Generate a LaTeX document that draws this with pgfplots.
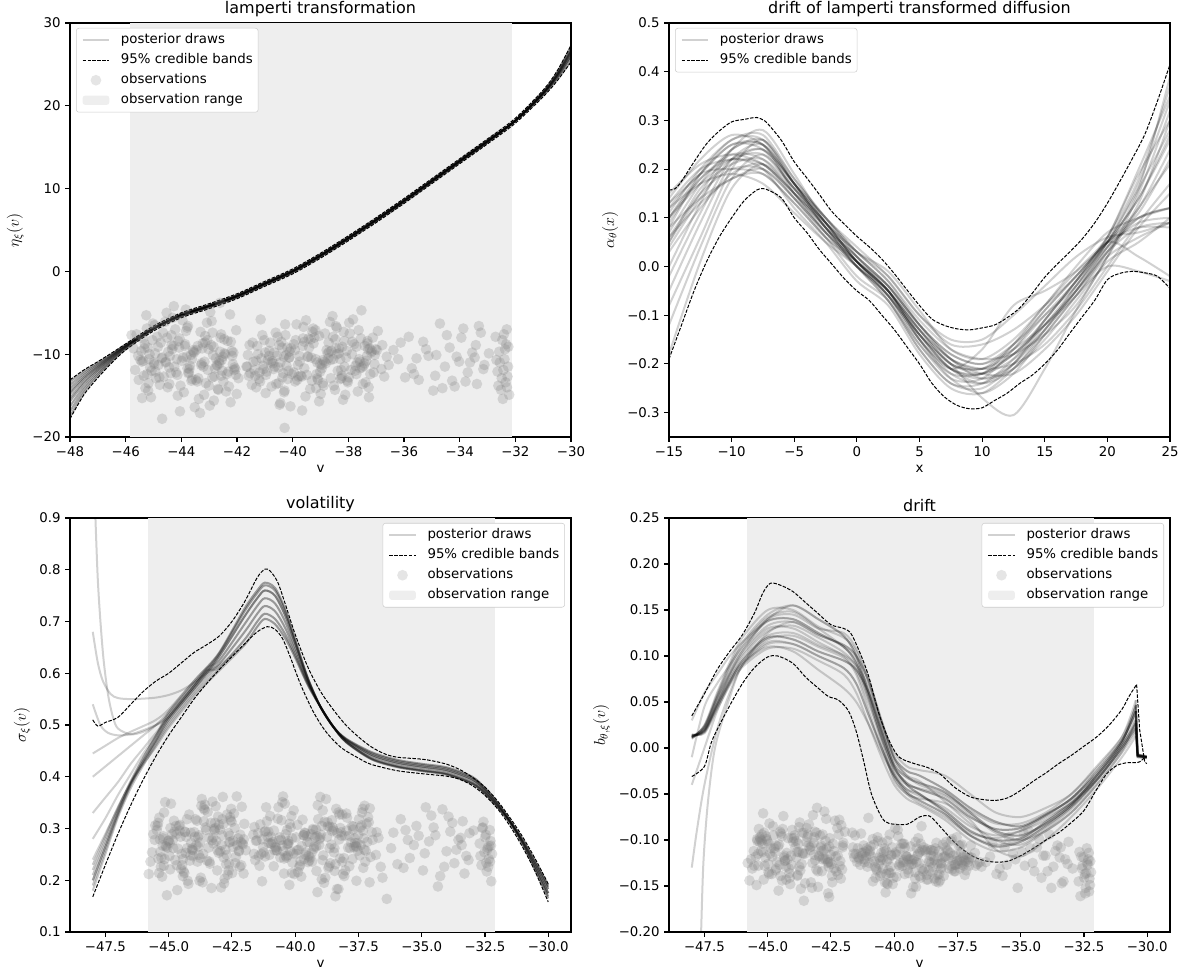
\documentclass[border=0pt]{standalone}
\usepackage{fontspec}
\setmainfont{DejaVu Sans}
\usepackage{pgfplots}
\pgfplotsset{compat=1.18}
\usepackage{pgfplotstable}
\definecolor{obsgray}{gray}{0.933}

\pgfplotstableread{
x a b c
-44.82 -11.3 0.262 -0.118
-43.15 -8.6 0.301 -0.097
-42.37 -12.4 0.233 -0.131
-45.21 -9.2 0.285 -0.104
-44.03 -13.8 0.247 -0.089
-42.88 -7.4 0.318 -0.112
-43.66 -10.1 0.196 -0.126
-45.02 -6.3 0.276 -0.101
-42.11 -11.9 0.342 -0.142
-44.47 -9.7 0.229 -0.093
-43.91 -14.6 0.268 -0.108
-42.64 -10.8 0.291 -0.121
-45.38 -8.1 0.214 -0.115
-44.19 -12.2 0.327 -0.098
-43.02 -9.4 0.253 -0.134
-42.25 -5.2 0.281 -0.087
-44.71 -10.5 0.305 -0.113
-43.48 -13.1 0.238 -0.102
-45.12 -11.6 0.266 -0.128
-42.93 -8.9 0.186 -0.095
-44.36 -7.7 0.294 -0.119
-43.27 -11.1 0.352 -0.107
-41.95 -12.9 0.258 -0.091
-44.94 -9.9 0.221 -0.137
-43.79 -6.8 0.287 -0.104
-42.51 -10.3 0.313 -0.116
-45.29 -14.1 0.244 -0.099
-44.11 -8.4 0.272 -0.148
-42.79 -11.7 0.203 -0.111
-43.58 -9.5 0.336 -0.092
-44.63 -12.7 0.261 -0.124
-42.03 -7.1 0.279 -0.106
-45.47 -10.7 0.297 -0.118
-43.37 -15.4 0.232 -0.083
-44.28 -9.0 0.318 -0.129
-42.71 -11.4 0.249 -0.101
-43.84 -4.6 0.283 -0.113
-45.07 -12.0 0.171 -0.096
-42.46 -8.2 0.264 -0.139
-44.55 -10.9 0.307 -0.105
-43.12 -13.5 0.276 -0.122
-42.19 -9.6 0.226 -0.094
-44.87 -7.9 0.289 -0.109
-43.71 -11.8 0.344 -0.133
-45.33 -9.3 0.255 -0.102
-42.98 -16.2 0.298 -0.117
-44.41 -10.2 0.217 -0.088
-43.23 -8.7 0.271 -0.125
-42.57 -12.6 0.322 -0.107
-45.16 -10.6 0.241 -0.143
-43.96 -5.9 0.284 -0.098
-44.25 -11.5 0.199 -0.114
-42.84 -9.1 0.309 -0.121
-43.43 -13.3 0.263 -0.097
-45.61 -7.6 0.289 -0.131
-44.68 -10.4 0.229 -0.106
-42.31 -12.1 0.362 -0.118
-43.07 -8.3 0.258 -0.092
-44.99 -11.0 0.277 -0.126
-42.67 -14.3 0.211 -0.109
-43.54 -9.8 0.302 -0.115
-45.24 -6.9 0.267 -0.101
-44.14 -12.5 0.248 -0.136
-42.42 -10.0 0.329 -0.104
-43.86 -8.8 0.236 -0.119
-44.77 -13.7 0.294 -0.095
-42.15 -11.2 0.274 -0.128
-43.31 -7.3 0.185 -0.111
-45.42 -10.9 0.311 -0.099
-44.33 -9.4 0.253 -0.123
-42.89 -12.8 0.287 -0.106
-43.62 -10.6 0.339 -0.114
-44.51 -8.0 0.222 -0.091
-42.06 -11.8 0.269 -0.132
-45.79 -7.7 0.212 -0.125
-43.18 -14.9 0.296 -0.103
-44.08 -9.2 0.259 -0.117
-42.55 -10.7 0.316 -0.098
-43.75 -12.3 0.243 -0.129
-45.55 -10.2 0.278 -0.112
-44.59 -6.1 0.305 -0.107
-42.73 -11.3 0.231 -0.121
-43.41 -9.0 0.282 -0.094
-44.91 -12.9 0.348 -0.115
-42.22 -8.5 0.256 -0.138
-43.99 -10.8 0.293 -0.102
-45.09 -15.2 0.265 -0.119
-44.44 -11.6 0.208 -0.096
-42.61 -9.7 0.273 -0.124
-43.33 -17.1 0.311 -0.108
-40.12 -10.4 0.281 -0.116
-38.47 -8.2 0.254 -0.129
-39.71 -12.6 0.317 -0.104
-37.23 -9.3 0.236 -0.122
-41.05 -11.8 0.272 -0.111
-39.18 -7.1 0.298 -0.135
-38.02 -13.4 0.219 -0.118
-40.66 -9.8 0.341 -0.097
-37.58 -10.9 0.265 -0.127
-41.44 -8.6 0.247 -0.109
-39.37 -14.2 0.289 -0.121
-38.81 -11.1 0.205 -0.132
-40.27 -6.4 0.276 -0.101
-37.09 -12.2 0.312 -0.124
-39.92 -9.5 0.258 -0.113
-38.29 -10.6 0.183 -0.138
-41.21 -13.0 0.294 -0.106
-40.48 -8.9 0.362 -0.119
-37.74 -11.4 0.241 -0.128
-39.05 -7.8 0.279 -0.115
-38.63 -12.9 0.303 -0.123
-40.85 -10.2 0.227 -0.099
-37.41 -9.0 0.268 -0.131
-39.54 -15.1 0.285 -0.117
-41.63 -11.5 0.251 -0.108
-38.14 -8.4 0.327 -0.125
-40.03 -12.4 0.212 -0.141
-37.87 -10.0 0.286 -0.112
-39.26 -6.9 0.261 -0.126
-38.95 -11.7 0.305 -0.104
-40.59 -13.6 0.244 -0.119
-37.15 -9.6 0.274 -0.133
-41.31 -10.8 0.198 -0.114
-39.63 -8.1 0.292 -0.122
-38.38 -12.0 0.338 -0.109
-40.19 -9.2 0.256 -0.136
-37.66 -14.5 0.281 -0.117
-39.81 -11.3 0.229 -0.127
-38.57 -5.4 0.269 -0.111
-41.12 -10.5 0.314 -0.118
-40.37 -12.8 0.247 -0.146
-37.32 -8.7 0.296 -0.105
-39.12 -11.0 0.177 -0.124
-38.74 -9.9 0.284 -0.113
-40.76 -13.9 0.263 -0.129
-37.95 -7.5 0.321 -0.102
-39.44 -10.3 0.238 -0.121
-41.52 -12.3 0.277 -0.115
-38.22 -9.1 0.301 -0.137
-40.08 -16.3 0.252 -0.108
-37.51 -11.6 0.288 -0.123
-39.89 -8.3 0.216 -0.116
-38.91 -10.7 0.335 -0.131
-40.93 -12.1 0.271 -0.107
-37.02 -9.4 0.245 -0.119
-39.31 -13.2 0.299 -0.126
-38.45 -6.6 0.262 -0.112
-41.38 -11.9 0.308 -0.121
-40.23 -10.1 0.191 -0.133
-37.79 -8.8 0.273 -0.114
-39.67 -12.7 0.287 -0.128
-38.08 -10.4 0.243 -0.105
-40.54 -7.9 0.316 -0.122
-37.27 -14.0 0.259 -0.117
-39.01 -11.2 0.282 -0.139
-38.69 -9.7 0.224 -0.110
-41.17 -13.3 0.295 -0.124
-40.41 -8.5 0.348 -0.113
-37.61 -10.6 0.266 -0.127
-39.49 -12.5 0.235 -0.118
-38.33 -9.3 0.291 -0.103
-40.71 -11.1 0.257 -0.131
-36.94 -7.2 0.278 -0.119
-39.76 -10.2 0.207 -0.125
-38.52 -13.8 0.302 -0.111
-41.27 -9.0 0.264 -0.117
-40.15 -12.0 0.324 -0.129
-37.45 -11.4 0.248 -0.106
-39.22 -8.0 0.283 -0.121
-38.86 -10.9 0.195 -0.134
-40.97 -14.7 0.271 -0.115
-37.18 -9.8 0.309 -0.123
-39.58 -11.7 0.254 -0.108
-38.17 -7.3 0.286 -0.126
-41.58 -12.6 0.239 -0.119
-40.32 -10.3 0.297 -0.112
-37.83 -5.8 0.262 -0.131
-39.09 -13.1 0.318 -0.117
-38.61 -9.6 0.233 -0.124
-40.64 -11.5 0.277 -0.101
-36.78 -8.9 0.293 -0.128
-39.96 -12.2 0.251 -0.115
-38.41 -10.0 0.169 -0.122
-41.09 -7.7 0.284 -0.109
-40.51 -13.5 0.267 -0.136
-37.36 -10.8 0.331 -0.114
-39.41 -9.2 0.244 -0.127
-38.26 -11.9 0.279 -0.119
-40.81 -8.6 0.258 -0.105
-37.71 -12.4 0.304 -0.132
-36.62 -10.3 0.226 -0.124
-38.99 -14.8 0.288 -0.113
-40.44 -11.0 0.213 -0.121
-37.97 -6.2 0.296 -0.118
-39.17 -10.6 0.265 -0.142
-36.71 -12.7 0.282 -0.126
-38.78 -9.5 0.357 -0.111
-40.29 -18.9 0.248 -0.123
-37.55 -8.1 0.272 -0.116
-36.55 -11.3 0.205 -0.129
-36.21 -10.6 0.262 -0.118
-35.83 -7.9 0.318 -0.131
-35.47 -13.1 0.243 -0.097
-35.12 -10.2 0.286 -0.152
-34.95 -14.4 0.219 -0.113
-34.71 -6.3 0.275 -0.089
-34.53 -11.5 0.302 -0.125
-34.36 -9.2 0.188 -0.108
-34.18 -13.9 0.337 -0.141
-34.02 -10.9 0.256 -0.117
-33.87 -6.9 0.294 -0.094
-33.71 -12.2 0.233 -0.129
-33.55 -9.8 0.278 -0.106
-33.38 -13.6 0.314 -0.147
-33.24 -7.4 0.247 -0.121
-33.11 -11.3 0.291 -0.102
-35.96 -12.8 0.231 -0.137
-35.31 -8.5 0.268 -0.115
-34.84 -10.1 0.341 -0.128
-34.27 -13.2 0.208 -0.099
-33.94 -8.0 0.323 -0.134
-33.63 -11.0 0.259 -0.112
-36.38 -9.5 0.164 -0.124
-35.64 -12.4 0.297 -0.108
-33.46 -10.4 0.282 -0.119
-32.71 -7.9 0.271 -0.145
-32.64 -12.1 0.229 -0.161
-32.58 -9.7 0.302 -0.131
-32.52 -14.3 0.254 -0.119
-32.47 -8.3 0.288 -0.137
-32.43 -11.9 0.217 -0.152
-32.39 -10.6 0.263 -0.109
-32.35 -13.4 0.241 -0.127
-32.31 -7.0 0.297 -0.114
-32.28 -12.7 0.276 -0.142
-32.25 -9.1 0.198 -0.123
-32.22 -14.9 0.251 -0.135
-32.56 -11.0 0.313 -0.128
-32.45 -15.4 0.234 -0.158
-32.33 -8.8 0.266 -0.121
-44.93 -12.1 0.301 -0.082
-43.08 -6.2 0.219 -0.132
-42.45 -9.9 0.276 -0.146
-45.18 -13.5 0.331 -0.071
-44.06 -8.1 0.262 -0.127
-42.83 -15.6 0.244 -0.094
-43.69 -11.4 0.357 -0.153
-45.26 -5.3 0.207 -0.112
-42.17 -10.2 0.288 -0.078
-44.49 -14.0 0.251 -0.139
-43.88 -9.0 0.315 -0.101
-42.61 -3.8 0.232 -0.158
-45.35 -12.6 0.279 -0.088
-44.22 -7.0 0.193 -0.121
-43.05 -11.9 0.323 -0.065
-42.29 -13.9 0.268 -0.134
-44.74 -8.6 0.239 -0.109
-43.52 -16.4 0.297 -0.147
-45.14 -10.0 0.351 -0.092
-42.96 -4.9 0.256 -0.118
-44.38 -12.3 0.214 -0.074
-43.25 -9.3 0.282 -0.152
-42.01 -14.8 0.309 -0.103
-44.97 -11.2 0.247 -0.135
-43.76 -6.6 0.273 -0.086
-42.53 -12.0 0.338 -0.124
-45.31 -8.8 0.226 -0.097
-44.13 -15.0 0.292 -0.141
-42.76 -10.5 0.259 -0.069
-43.61 -13.0 0.314 -0.115
-44.66 -7.4 0.181 -0.131
-42.09 -11.6 0.271 -0.084
-45.44 -9.6 0.305 -0.149
-43.39 -12.9 0.236 -0.106
-44.31 -5.6 0.284 -0.122
-42.69 -14.2 0.327 -0.077
-43.81 -10.3 0.249 -0.138
-45.04 -8.3 0.263 -0.099
-42.49 -13.3 0.214 -0.126
-44.57 -11.0 0.296 -0.155
-43.14 -7.8 0.343 -0.091
-42.23 -15.8 0.257 -0.117
-44.84 -9.1 0.277 -0.137
-43.73 -12.2 0.205 -0.081
-45.37 -10.8 0.321 -0.128
-42.91 -6.0 0.268 -0.108
-44.43 -13.6 0.241 -0.144
-43.21 -11.5 0.299 -0.073
-42.59 -8.0 0.286 -0.129
-45.19 -14.4 0.228 -0.113
-43.94 -10.4 0.318 -0.095
-44.27 -4.2 0.262 -0.143
-42.81 -12.7 0.194 -0.119
-43.46 -9.5 0.332 -0.087
-45.66 -11.9 0.254 -0.121
-44.69 -17.8 0.289 -0.133
-42.34 -8.4 0.245 -0.079
-43.01 -13.8 0.307 -0.151
-44.96 -6.5 0.272 -0.104
-42.63 -11.1 0.219 -0.125
-43.57 -9.7 0.346 -0.166
-45.23 -12.4 0.281 -0.094
-44.16 -10.6 0.238 -0.131
-42.39 -14.5 0.301 -0.112
-43.83 -7.2 0.265 -0.139
-44.79 -12.8 0.315 -0.085
-42.13 -9.8 0.229 -0.123
-43.29 -11.3 0.277 -0.146
-45.41 -15.3 0.242 -0.101
-44.35 -8.9 0.293 -0.117
-42.86 -10.1 0.361 -0.134
-43.64 -13.2 0.251 -0.092
-44.53 -5.0 0.284 -0.127
-42.04 -12.5 0.213 -0.108
-45.72 -9.3 0.236 -0.144
-43.17 -10.9 0.311 -0.116
-44.05 -16.9 0.258 -0.098
-42.57 -7.6 0.274 -0.162
-43.78 -11.7 0.199 -0.113
-45.53 -13.1 0.306 -0.128
-40.18 -13.0 0.302 -0.094
-38.41 -6.8 0.231 -0.142
-39.75 -10.9 0.266 -0.109
-37.26 -15.2 0.344 -0.128
-41.02 -8.3 0.249 -0.076
-39.14 -12.4 0.285 -0.151
-38.06 -9.6 0.208 -0.119
-40.69 -11.8 0.319 -0.133
-37.53 -4.7 0.257 -0.097
-41.47 -13.7 0.291 -0.124
-39.33 -10.4 0.236 -0.158
-38.84 -7.5 0.313 -0.108
-40.31 -14.6 0.269 -0.137
-37.06 -11.2 0.196 -0.121
-39.96 -8.8 0.283 -0.087
-38.25 -12.9 0.327 -0.146
-41.25 -10.0 0.254 -0.114
-40.44 -15.9 0.242 -0.131
-37.71 -9.1 0.298 -0.099
-39.01 -12.1 0.361 -0.125
-38.66 -6.1 0.227 -0.143
-40.89 -10.7 0.274 -0.118
-37.38 -13.4 0.306 -0.106
-39.58 -8.5 0.249 -0.137
-41.66 -11.5 0.288 -0.092
-38.11 -14.9 0.212 -0.129
-40.06 -9.3 0.335 -0.148
-37.91 -11.9 0.263 -0.111
-39.29 -7.3 0.297 -0.122
-38.92 -13.5 0.239 -0.085
-40.56 -10.2 0.278 -0.139
-37.12 -8.0 0.322 -0.116
-41.34 -12.6 0.251 -0.127
-39.66 -16.8 0.287 -0.104
-38.35 -9.9 0.183 -0.145
-40.22 -11.4 0.309 -0.121
-37.63 -7.1 0.272 -0.134
-39.84 -13.1 0.226 -0.096
-38.54 -10.6 0.295 -0.125
-41.15 -5.8 0.341 -0.113
-40.34 -12.3 0.244 -0.157
-37.29 -9.4 0.281 -0.119
-39.16 -14.1 0.218 -0.102
-38.71 -8.6 0.304 -0.138
-40.79 -11.0 0.265 -0.123
-37.98 -12.8 0.329 -0.108
-39.47 -10.3 0.247 -0.132
-41.55 -8.9 0.276 -0.095
-38.19 -15.5 0.293 -0.144
-40.11 -9.7 0.234 -0.117
-37.48 -13.6 0.318 -0.126
-39.86 -6.4 0.259 -0.089
-38.95 -11.3 0.202 -0.141
-40.96 -12.5 0.284 -0.112
-37.05 -10.1 0.339 -0.128
-39.35 -8.2 0.253 -0.107
-38.48 -14.3 0.297 -0.135
-41.41 -10.9 0.228 -0.119
-40.26 -7.7 0.271 -0.148
-37.76 -12.0 0.305 -0.101
-39.64 -9.0 0.241 -0.124
-38.04 -13.2 0.286 -0.139
-40.51 -11.6 0.351 -0.114
-37.31 -8.4 0.224 -0.127
-39.05 -15.7 0.268 -0.098
-38.72 -10.5 0.312 -0.143
-41.19 -12.2 0.246 -0.121
-40.38 -9.2 0.289 -0.109
-37.58 -11.7 0.199 -0.134
-39.52 -5.9 0.274 -0.118
-38.29 -13.0 0.331 -0.126
-40.74 -10.8 0.258 -0.141
-36.97 -9.5 0.293 -0.106
-39.79 -12.7 0.237 -0.129
-38.55 -7.9 0.316 -0.117
-41.31 -14.0 0.279 -0.093
-40.13 -10.4 0.214 -0.136
-37.42 -11.1 0.302 -0.122
-39.25 -8.7 0.265 -0.151
-38.89 -13.8 0.248 -0.111
-40.99 -9.8 0.324 -0.125
-37.21 -12.4 0.257 -0.138
-39.61 -6.7 0.291 -0.104
-38.14 -11.5 0.236 -0.131
-41.61 -10.1 0.303 -0.115
-40.29 -14.4 0.271 -0.147
-37.86 -8.5 0.227 -0.120
-39.11 -12.9 0.345 -0.109
-38.64 -10.7 0.262 -0.133
-40.61 -7.4 0.283 -0.126
-36.81 -11.8 0.249 -0.114
-39.91 -13.3 0.307 -0.140
-38.44 -9.3 0.218 -0.118
-41.06 -11.4 0.294 -0.129
-40.47 -16.1 0.256 -0.103
-37.33 -10.2 0.338 -0.124
-39.43 -8.1 0.273 -0.136
-38.23 -12.6 0.242 -0.112
-40.84 -9.6 0.296 -0.145
-37.68 -11.0 0.264 -0.122
-36.12 -8.6 0.292 -0.104
-35.72 -11.7 0.224 -0.139
-35.21 -9.4 0.305 -0.121
-34.88 -12.6 0.252 -0.093
-34.46 -7.7 0.287 -0.134
-34.11 -10.3 0.226 -0.117
-33.79 -13.3 0.311 -0.152
-33.42 -8.9 0.268 -0.108
-33.15 -11.8 0.239 -0.126
-32.95 -9.9 0.296 -0.131
-32.68 -10.7 0.247 -0.113
-32.49 -12.9 0.283 -0.141
-32.37 -9.4 0.226 -0.125
-32.26 -11.5 0.267 -0.149
-32.61 -13.8 0.301 -0.118
-32.41 -7.6 0.259 -0.136
-32.30 -14.0 0.236 -0.156
-35.55 -10.5 0.278 -0.127
-34.62 -14.1 0.325 -0.109
-33.31 -6.6 0.213 -0.145
}\obstable

\pgfplotsset{
  base/.style={
    scale only axis, width=375.75pt, height=310.5pt, anchor=north west,
    axis line style={line width=0.8pt, black},
    tick style={line width=0.8pt, black},
    major tick length=3.5pt, tick align=outside,
    xtick pos=left, ytick pos=left,
    tick label style={font=\fontsize{10}{12}\selectfont},
    xlabel style={font=\fontsize{10}{12}\selectfont},
    ylabel style={font=\fontsize{12}{14}\selectfont},
    title style={font=\fontsize{12}{14}\selectfont, yshift=-5pt},
    legend style={font=\fontsize{10}{12}\selectfont, draw=black!20, rounded corners=2pt,
      fill=white, inner xsep=4pt, inner ysep=4pt,
      nodes={inner sep=0pt, text height=7.5pt, text depth=2.5pt},
      row sep=5pt, column sep=8pt},
    legend cell align=left,
  },
  pd/.style={black, draw opacity=0.18, line width=1.5pt, smooth, forget plot},
  pdk/.style={black, draw opacity=0.35, line width=1.5pt, smooth, forget plot},
  pdv/.style={black, draw opacity=0.22, line width=1.5pt, smooth, forget plot},
  pdsharp/.style={black, draw opacity=0.18, line width=1.5pt, sharp plot, forget plot},
  band/.style={black, line width=0.75pt, dash pattern=on 2.6pt off 1.1pt, smooth, forget plot},
  bandsharp/.style={black, line width=0.75pt, dash pattern=on 2.6pt off 1.1pt, sharp plot, forget plot},
  obs/.style={only marks, mark=*, mark size=4pt, mark options={fill=gray, fill opacity=0.26, draw opacity=0}, forget plot},
  rng/.style={draw=none, fill=obsgray, forget plot},
  lgdraw/.style={legend image code/.code={\draw[black,draw opacity=0.18,line width=1.5pt](0pt,0pt)--(20pt,0pt);}},
  lgband/.style={legend image code/.code={\draw[black,line width=0.75pt,dash pattern=on 2.6pt off 1.1pt](0pt,0pt)--(20pt,0pt);}},
  lgobs/.style={legend image code/.code={\path[draw=none,fill=black!10](10pt,0pt) circle (4pt);}},
  lgrng/.style={legend image code/.code={\path[draw=none,fill=obsgray](0pt,-3.5pt) rectangle (20pt,3.5pt);}},
}

\begin{document}
\begin{tikzpicture}
\useasboundingbox (0,0) rectangle (891pt,-730.5pt);

% ---------------- top left ----------------
\begin{axis}[base, at={(52.5pt,-17.25pt)},
  xmin=-48, xmax=-30, ymin=-20, ymax=30,
  title={lamperti transformation}, xlabel={v}, ylabel={$\eta_\xi(v)$},
  xtick={-48,-46,-44,-42,-40,-38,-36,-34,-32,-30},
  xticklabels={−48,−46,−44,−42,−40,−38,−36,−34,−32,−30},
  ytick={-20,-10,0,10,20,30}, yticklabels={−20,−10,0,10,20,30},
  legend style={at={(0.012,0.988)}, anchor=north west}]
\addplot[rng] coordinates {(-45.83,-20) (-32.12,-20) (-32.12,30) (-45.83,30)} -- cycle;
\addplot[obs] table[x=x, y=a] {\obstable};
\addplot[band] coordinates {(-48,-13.1) (-47.5,-11.9) (-47,-10.9) (-46.5,-9.85) (-46,-8.75) (-45,-6.6) (-44,-5.0) (-43,-3.9) (-42,-2.7) (-41,-1.2) (-40,0.3) (-39,2.2) (-38,4.3) (-37,6.5) (-36,8.8) (-35,11.2) (-34,13.6) (-33,16.0) (-32,18.5) (-31,21.9) (-30.5,24.2) (-30,27.3)};
\addplot[band] coordinates {(-48,-17.8) (-47.5,-14.9) (-47,-12.85) (-46.5,-11.05) (-46,-9.5) (-45,-7.2) (-44,-5.6) (-43,-4.5) (-42,-3.3) (-41,-1.8) (-40,-0.3) (-39,1.6) (-38,3.7) (-37,5.9) (-36,8.2) (-35,10.6) (-34,13.0) (-33,15.4) (-32,17.9) (-31,21.1) (-30.5,23.0) (-30,25.3)};
\addplot[pdk] coordinates {(-48,-13.3) (-47.5,-12.06) (-47,-11.04) (-46.5,-9.96) (-46,-8.86) (-45,-6.82) (-44,-5.18) (-43,-4.08) (-42,-2.88) (-41,-1.38) (-40,0.12) (-39,2.02) (-38,4.12) (-37,6.32) (-36,8.62) (-35,11.02) (-34,13.42) (-33,15.82) (-32,18.25) (-31,21.73) (-30.5,24.05) (-30,27.2)};
\addplot[pdk] coordinates {(-48,-17.5) (-47.5,-14.66) (-47,-12.64) (-46.5,-10.88) (-46,-9.36) (-45,-6.99) (-44,-5.42) (-43,-4.32) (-42,-3.12) (-41,-1.62) (-40,-0.12) (-39,1.78) (-38,3.88) (-37,6.08) (-36,8.38) (-35,10.78) (-34,13.18) (-33,15.58) (-32,18.15) (-31,21.28) (-30.5,23.15) (-30,25.4)};
\addplot[pdk] coordinates {(-48,-14.1) (-47.5,-12.56) (-47,-11.34) (-46.5,-10.14) (-46,-8.96) (-45,-6.85) (-44,-5.24) (-43,-4.14) (-42,-2.94) (-41,-1.44) (-40,0.06) (-39,1.96) (-38,4.06) (-37,6.26) (-36,8.56) (-35,10.96) (-34,13.36) (-33,15.76) (-32,18.22) (-31,21.58) (-30.5,23.75) (-30,26.6)};
\addplot[pdk] coordinates {(-48,-16.3) (-47.5,-13.92) (-47,-12.18) (-46.5,-10.62) (-46,-9.22) (-45,-6.94) (-44,-5.38) (-43,-4.28) (-42,-3.08) (-41,-1.58) (-40,-0.08) (-39,1.82) (-38,3.92) (-37,6.12) (-36,8.42) (-35,10.82) (-34,13.22) (-33,15.62) (-32,18.17) (-31,21.38) (-30.5,23.35) (-30,25.8)};
\addplot[pdk] coordinates {(-48,-14.8) (-47.5,-12.99) (-47,-11.61) (-46.5,-10.29) (-46,-9.04) (-45,-6.88) (-44,-5.2) (-43,-4.1) (-42,-2.9) (-41,-1.4) (-40,0.1) (-39,2.0) (-38,4.1) (-37,6.3) (-36,8.6) (-35,11.0) (-34,13.4) (-33,15.8) (-32,18.24) (-31,21.65) (-30.5,23.9) (-30,26.9)};
\addplot[pdk] coordinates {(-48,-15.7) (-47.5,-13.55) (-47,-11.95) (-46.5,-10.49) (-46,-9.15) (-45,-6.92) (-44,-5.33) (-43,-4.23) (-42,-3.03) (-41,-1.53) (-40,-0.03) (-39,1.87) (-38,3.97) (-37,6.17) (-36,8.47) (-35,10.87) (-34,13.27) (-33,15.67) (-32,18.21) (-31,21.53) (-30.5,23.65) (-30,26.4)};
\addplot[pdk] coordinates {(-48,-13.7) (-47.5,-12.31) (-47,-11.19) (-46.5,-10.05) (-46,-8.91) (-45,-6.84) (-44,-5.26) (-43,-4.16) (-42,-2.96) (-41,-1.46) (-40,0.04) (-39,1.94) (-38,4.04) (-37,6.24) (-36,8.54) (-35,10.94) (-34,13.34) (-33,15.74) (-32,18.18) (-31,21.43) (-30.5,23.45) (-30,26.0)};
\addplot[pdk] coordinates {(-48,-16.9) (-47.5,-14.29) (-47,-12.41) (-46.5,-10.75) (-46,-9.29) (-45,-6.96) (-44,-5.4) (-43,-4.3) (-42,-3.1) (-41,-1.6) (-40,-0.1) (-39,1.8) (-38,3.9) (-37,6.1) (-36,8.4) (-35,10.8) (-34,13.2) (-33,15.6) (-32,18.22) (-31,21.6) (-30.5,23.8) (-30,26.7)};
\addplot[pdk] coordinates {(-48,-15.3) (-47.5,-13.3) (-47,-11.8) (-46.5,-10.4) (-46,-9.1) (-45,-6.9) (-44,-5.3) (-43,-4.2) (-42,-3.0) (-41,-1.5) (-40,0) (-39,1.9) (-38,4.0) (-37,6.2) (-36,8.5) (-35,10.9) (-34,13.3) (-33,15.7) (-32,18.19) (-31,21.45) (-30.5,23.5) (-30,26.1)};
\addplot[pdk] coordinates {(-48,-14.5) (-47.5,-12.8) (-47,-11.5) (-46.5,-10.22) (-46,-9.0) (-45,-6.87) (-44,-5.22) (-43,-4.12) (-42,-2.92) (-41,-1.42) (-40,0.08) (-39,1.98) (-38,4.08) (-37,6.28) (-36,8.58) (-35,10.98) (-34,13.38) (-33,15.78) (-32,18.21) (-31,21.55) (-30.5,23.7) (-30,26.5)};
\addlegendimage{lgdraw}\addlegendentry{posterior draws}
\addlegendimage{lgband}\addlegendentry{95\% credible bands}
\addlegendimage{lgobs}\addlegendentry{observations}
\addlegendimage{lgrng}\addlegendentry{observation range}
\end{axis}

% ---------------- top right ----------------
\begin{axis}[base, at={(501.75pt,-17.25pt)},
  xmin=-15, xmax=25, ymin=-0.35, ymax=0.5,
  title={drift of lamperti transformed diffusion}, xlabel={x}, ylabel={$\alpha_\theta(x)$},
  xtick={-15,-10,-5,0,5,10,15,20,25},
  xticklabels={−15,−10,−5,0,5,10,15,20,25},
  ytick={-0.3,-0.2,-0.1,0,0.1,0.2,0.3,0.4,0.5},
  yticklabels={−0.3,−0.2,−0.1,0.0,0.1,0.2,0.3,0.4,0.5},
  legend style={at={(0.012,0.988)}, anchor=north west}]
\addplot[pd] coordinates {(-15,0.10) (-12.5,0.17) (-10,0.22) (-7.5,0.23) (-5,0.16) (-2.5,0.08) (0,0.01) (2.5,-0.05) (5,-0.13) (7.5,-0.19) (10,-0.21) (12.5,-0.17) (15,-0.10) (17.5,-0.03) (20,0.05) (22.5,0.14) (25,0.26)};
\addplot[pd] coordinates {(-15,0.05) (-12.5,0.15) (-10,0.24) (-7.5,0.25) (-5,0.15) (-2.5,0.07) (0,0.00) (2.5,-0.06) (5,-0.15) (7.5,-0.21) (10,-0.22) (12.5,-0.18) (15,-0.12) (17.5,-0.05) (20,0.03) (22.5,0.13) (25,0.30)};
\addplot[pd] coordinates {(-15,-0.18) (-12.5,0.01) (-10,0.16) (-7.5,0.21) (-5,0.15) (-2.5,0.08) (0,0.00) (2.5,-0.05) (5,-0.14) (7.5,-0.21) (10,-0.22) (12.5,-0.16) (15,-0.08) (17.5,-0.01) (20,0.06) (22.5,0.18) (25,0.37)};
\addplot[pd] coordinates {(-15,0.12) (-12.5,0.19) (-10,0.20) (-7.5,0.19) (-5,0.13) (-2.5,0.06) (0,0.01) (2.5,-0.04) (5,-0.12) (7.5,-0.18) (10,-0.20) (12.5,-0.17) (15,-0.12) (17.5,-0.06) (20,0.02) (22.5,0.06) (25,0.09)};
\addplot[pd] coordinates {(-15,0.14) (-12.5,0.22) (-10,0.27) (-7.5,0.25) (-5,0.17) (-2.5,0.09) (0,0.03) (2.5,-0.02) (5,-0.10) (7.5,-0.16) (10,-0.16) (12.5,-0.13) (15,-0.08) (17.5,-0.02) (20,0.05) (22.5,0.08) (25,0.08)};
\addplot[pd] coordinates {(-15,0.08) (-12.5,0.14) (-10,0.18) (-7.5,0.20) (-5,0.14) (-2.5,0.07) (0,0.01) (2.5,-0.05) (5,-0.15) (7.5,-0.23) (10,-0.26) (12.5,-0.22) (15,-0.14) (17.5,-0.06) (20,0.03) (22.5,0.10) (25,0.12)};
\addplot[pd] coordinates {(-15,-0.05) (-12.5,0.09) (-10,0.21) (-7.5,0.24) (-5,0.17) (-2.5,0.10) (0,0.03) (2.5,-0.03) (5,-0.11) (7.5,-0.17) (10,-0.19) (12.5,-0.18) (15,-0.14) (17.5,-0.08) (20,0.02) (22.5,0.15) (25,0.32)};
\addplot[pd] coordinates {(-15,0.03) (-12.5,0.12) (-10,0.19) (-7.5,0.21) (-5,0.14) (-2.5,0.06) (0,-0.02) (2.5,-0.07) (5,-0.17) (7.5,-0.24) (10,-0.25) (12.5,-0.20) (15,-0.11) (17.5,-0.03) (20,0.05) (22.5,0.02) (25,-0.02)};
\addplot[pd] coordinates {(-15,0.11) (-12.5,0.20) (-10,0.26) (-7.5,0.27) (-5,0.18) (-2.5,0.10) (0,0.04) (2.5,-0.02) (5,-0.10) (7.5,-0.15) (10,-0.15) (12.5,-0.10) (15,-0.04) (17.5,0.02) (20,0.06) (22.5,0.07) (25,0.09)};
\addplot[pd] coordinates {(-15,0.07) (-12.5,0.17) (-10,0.24) (-7.5,0.26) (-5,0.18) (-2.5,0.10) (0,0.02) (2.5,-0.05) (5,-0.14) (7.5,-0.20) (10,-0.27) (12.5,-0.305) (15,-0.21) (17.5,-0.09) (20,0.02) (22.5,0.12) (25,0.21)};
\addplot[pd] coordinates {(-15,0.06) (-12.5,0.13) (-10,0.18) (-7.5,0.19) (-5,0.13) (-2.5,0.06) (0,0.00) (2.5,-0.06) (5,-0.15) (7.5,-0.21) (10,-0.17) (12.5,-0.08) (15,-0.05) (17.5,-0.01) (20,0.05) (22.5,0.11) (25,0.22)};
\addplot[pd] coordinates {(-15,-0.12) (-12.5,0.04) (-10,0.18) (-7.5,0.23) (-5,0.16) (-2.5,0.09) (0,0.01) (2.5,-0.05) (5,-0.15) (7.5,-0.22) (10,-0.24) (12.5,-0.20) (15,-0.13) (17.5,-0.05) (20,0.04) (22.5,0.16) (25,0.39)};
\addplot[pd] coordinates {(-15,0.09) (-12.5,0.18) (-10,0.22) (-7.5,0.20) (-5,0.12) (-2.5,0.05) (0,-0.03) (2.5,-0.08) (5,-0.18) (7.5,-0.25) (10,-0.26) (12.5,-0.21) (15,-0.14) (17.5,-0.06) (20,0.00) (22.5,-0.01) (25,-0.03)};
\addplot[pd] coordinates {(-15,0.15) (-12.5,0.21) (-10,0.23) (-7.5,0.21) (-5,0.15) (-2.5,0.09) (0,0.03) (2.5,-0.01) (5,-0.09) (7.5,-0.17) (10,-0.19) (12.5,-0.15) (15,-0.08) (17.5,0.00) (20,0.07) (22.5,0.10) (25,0.12)};
\addplot[pd] coordinates {(-15,0.00) (-12.5,0.13) (-10,0.24) (-7.5,0.28) (-5,0.19) (-2.5,0.09) (0,0.01) (2.5,-0.06) (5,-0.16) (7.5,-0.22) (10,-0.22) (12.5,-0.18) (15,-0.11) (17.5,-0.03) (20,0.05) (22.5,0.17) (25,0.34)};
\addplot[pd] coordinates {(-15,0.05) (-12.5,0.16) (-10,0.21) (-7.5,0.22) (-5,0.16) (-2.5,0.09) (0,0.01) (2.5,-0.05) (5,-0.13) (7.5,-0.19) (10,-0.21) (12.5,-0.20) (15,-0.16) (17.5,-0.09) (20,0.00) (22.5,0.09) (25,0.17)};
\addplot[pd] coordinates {(-15,0.13) (-12.5,0.19) (-10,0.25) (-7.5,0.24) (-5,0.16) (-2.5,0.08) (0,0.02) (2.5,-0.04) (5,-0.12) (7.5,-0.19) (10,-0.23) (12.5,-0.21) (15,-0.15) (17.5,-0.07) (20,0.01) (22.5,0.05) (25,0.10)};
\addplot[pd] coordinates {(-15,-0.08) (-12.5,0.06) (-10,0.20) (-7.5,0.26) (-5,0.17) (-2.5,0.09) (0,0.02) (2.5,-0.04) (5,-0.13) (7.5,-0.20) (10,-0.21) (12.5,-0.16) (15,-0.09) (17.5,-0.02) (20,0.06) (22.5,0.19) (25,0.30)};
\addplot[pd] coordinates {(-15,0.10) (-12.5,0.18) (-10,0.23) (-7.5,0.22) (-5,0.15) (-2.5,0.07) (0,0.00) (2.5,-0.07) (5,-0.16) (7.5,-0.23) (10,-0.23) (12.5,-0.17) (15,-0.09) (17.5,-0.02) (20,0.05) (22.5,0.12) (25,0.24)};
\addplot[pd] coordinates {(-15,0.12) (-12.5,0.17) (-10,0.19) (-7.5,0.17) (-5,0.11) (-2.5,0.05) (0,0.00) (2.5,-0.06) (5,-0.14) (7.5,-0.20) (10,-0.22) (12.5,-0.19) (15,-0.13) (17.5,-0.05) (20,0.04) (22.5,0.09) (25,0.10)};
\addplot[pd] coordinates {(-15,0.04) (-12.5,0.14) (-10,0.22) (-7.5,0.24) (-5,0.17) (-2.5,0.10) (0,0.03) (2.5,-0.03) (5,-0.12) (7.5,-0.19) (10,-0.22) (12.5,-0.22) (15,-0.17) (17.5,-0.10) (20,-0.01) (22.5,0.08) (25,0.15)};
\addplot[pd] coordinates {(-15,0.08) (-12.5,0.19) (-10,0.26) (-7.5,0.26) (-5,0.17) (-2.5,0.08) (0,0.00) (2.5,-0.07) (5,-0.17) (7.5,-0.24) (10,-0.24) (12.5,-0.19) (15,-0.11) (17.5,-0.03) (20,0.06) (22.5,0.20) (25,0.35)};
\addplot[pd] coordinates {(-15,0.13) (-12.5,0.20) (-10,0.22) (-7.5,0.21) (-5,0.15) (-2.5,0.08) (0,0.02) (2.5,-0.04) (5,-0.12) (7.5,-0.18) (10,-0.20) (12.5,-0.16) (15,-0.10) (17.5,-0.04) (20,0.04) (22.5,0.10) (25,0.12)};
\addplot[pd] coordinates {(-15,-0.02) (-12.5,0.11) (-10,0.22) (-7.5,0.25) (-5,0.17) (-2.5,0.09) (0,0.01) (2.5,-0.06) (5,-0.14) (7.5,-0.21) (10,-0.24) (12.5,-0.21) (15,-0.13) (17.5,-0.04) (20,0.05) (22.5,0.14) (25,0.27)};
\addplot[pd] coordinates {(-15,0.06) (-12.5,0.15) (-10,0.20) (-7.5,0.20) (-5,0.14) (-2.5,0.07) (0,0.01) (2.5,-0.05) (5,-0.13) (7.5,-0.20) (10,-0.21) (12.5,-0.18) (15,-0.12) (17.5,-0.05) (20,0.03) (22.5,0.08) (25,0.09)};
\addplot[pd] coordinates {(-15,0.10) (-12.5,0.19) (-10,0.25) (-7.5,0.25) (-5,0.17) (-2.5,0.08) (0,0.01) (2.5,-0.05) (5,-0.14) (7.5,-0.21) (10,-0.23) (12.5,-0.20) (15,-0.12) (17.5,-0.04) (20,0.05) (22.5,0.16) (25,0.28)};
\addplot[band] coordinates {(-15,0.157) (-14.5,0.16) (-14,0.175) (-13,0.215) (-12,0.252) (-11,0.278) (-10,0.297) (-9,0.302) (-8,0.306) (-7.3,0.298) (-7,0.29) (-6,0.258) (-5,0.215) (-4,0.182) (-3,0.148) (-2,0.113) (-1,0.087) (0,0.062) (1,0.04) (2,0.015) (3,-0.015) (4,-0.048) (5,-0.08) (6,-0.108) (7,-0.121) (8,-0.128) (9,-0.13) (10,-0.126) (11,-0.12) (12,-0.105) (13,-0.085) (14,-0.055) (15,-0.022) (16,0.005) (17,0.03) (18,0.057) (19,0.09) (20,0.13) (21,0.175) (22,0.222) (23,0.272) (24,0.34) (25,0.415)};
\addplot[band] coordinates {(-15,-0.19) (-14.5,-0.155) (-14,-0.12) (-13,-0.05) (-12,0.01) (-11,0.06) (-10,0.1) (-9,0.135) (-8,0.157) (-7.5,0.16) (-7,0.156) (-6,0.14) (-5,0.1) (-4,0.07) (-3,0.035) (-2,0.005) (-1,-0.025) (0,-0.05) (1,-0.07) (2,-0.1) (3,-0.13) (4,-0.165) (5,-0.2) (6,-0.24) (7,-0.268) (8,-0.285) (9,-0.292) (10,-0.29) (11,-0.275) (12,-0.26) (13,-0.24) (14,-0.223) (15,-0.2) (16,-0.172) (17,-0.137) (18,-0.103) (19,-0.069) (20,-0.027) (21,-0.014) (22,-0.01) (23,-0.013) (24,-0.02) (25,-0.045)};
\addlegendimage{lgdraw}\addlegendentry{posterior draws}
\addlegendimage{lgband}\addlegendentry{95\% credible bands}
\end{axis}

% ---------------- bottom left ----------------
\begin{axis}[base, at={(52.5pt,-388.5pt)},
  xmin=-48.9, xmax=-29.1, ymin=0.1, ymax=0.9,
  title={volatility}, xlabel={v}, ylabel={$\sigma_\xi(v)$},
  xtick={-47.5,-45,-42.5,-40,-37.5,-35,-32.5,-30},
  xticklabels={−47.5,−45.0,−42.5,−40.0,−37.5,−35.0,−32.5,−30.0},
  ytick={0.1,0.2,0.3,0.4,0.5,0.6,0.7,0.8,0.9},
  yticklabels={0.1,0.2,0.3,0.4,0.5,0.6,0.7,0.8,0.9},
  legend style={at={(0.988,0.988)}, anchor=north east}]
\addplot[rng] coordinates {(-45.83,0.1) (-32.12,0.1) (-32.12,0.9) (-45.83,0.9)} -- cycle;
\addplot[obs] table[x=x, y=b] {\obstable};
\addplot[pd] coordinates {(-48,0.24) (-47.5,0.29) (-47,0.34) (-46.5,0.39) (-46,0.43) (-45.5,0.47) (-45,0.51) (-44,0.57) (-43.5,0.60) (-43,0.633) (-42,0.710) (-41.5,0.745) (-41.2,0.760) (-40.8,0.750) (-40.4,0.712) (-40,0.658) (-39.5,0.588) (-39,0.535) (-38.5,0.497) (-38,0.472) (-37,0.443) (-36,0.428) (-35,0.420) (-34,0.413) (-33,0.395) (-32.5,0.374) (-32,0.347) (-31.5,0.314) (-31,0.275) (-30.5,0.231) (-30,0.183)};
\addplot[pd] coordinates {(-48,0.28) (-47.5,0.32) (-47,0.365) (-46.5,0.405) (-46,0.445) (-45.5,0.48) (-45,0.515) (-44,0.575) (-43.5,0.605) (-43,0.638) (-42,0.720) (-41.5,0.755) (-41.2,0.770) (-40.8,0.760) (-40.4,0.720) (-40,0.662) (-39.5,0.590) (-39,0.535) (-38.5,0.497) (-38,0.473) (-37,0.446) (-36,0.431) (-35,0.423) (-34,0.416) (-33,0.398) (-32.5,0.377) (-32,0.349) (-31.5,0.314) (-31,0.277) (-30.5,0.233) (-30,0.187)};
\addplot[pd] coordinates {(-48,0.33) (-47.5,0.36) (-47,0.39) (-46.5,0.425) (-46,0.455) (-45.5,0.485) (-45,0.515) (-44,0.575) (-43.5,0.605) (-43,0.618) (-42,0.680) (-41.5,0.715) (-41.2,0.730) (-40.8,0.720) (-40.4,0.688) (-40,0.642) (-39.5,0.582) (-39,0.535) (-38.5,0.497) (-38,0.468) (-37,0.436) (-36,0.421) (-35,0.413) (-34,0.406) (-33,0.388) (-32.5,0.369) (-32,0.343) (-31.5,0.311) (-31,0.270) (-30.5,0.221) (-30,0.169)};
\addplot[pd] coordinates {(-48,0.40) (-47.5,0.42) (-47,0.44) (-46.5,0.46) (-46,0.48) (-45.5,0.50) (-45,0.525) (-44,0.58) (-43.5,0.61) (-43,0.640) (-42,0.725) (-41.5,0.760) (-41.2,0.775) (-40.8,0.765) (-40.4,0.724) (-40,0.665) (-39.5,0.591) (-39,0.535) (-38.5,0.497) (-38,0.474) (-37,0.448) (-36,0.433) (-35,0.425) (-34,0.418) (-33,0.400) (-32.5,0.378) (-32,0.350) (-31.5,0.315) (-31,0.278) (-30.5,0.236) (-30,0.190)};
\addplot[pd] coordinates {(-48,0.445) (-47.5,0.46) (-47,0.475) (-46.5,0.487) (-46,0.498) (-45.5,0.51) (-45,0.53) (-44,0.585) (-43.5,0.61) (-43,0.625) (-42,0.695) (-41.5,0.730) (-41.2,0.745) (-40.8,0.735) (-40.4,0.700) (-40,0.650) (-39.5,0.585) (-39,0.535) (-38.5,0.497) (-38,0.470) (-37,0.440) (-36,0.425) (-35,0.417) (-34,0.410) (-33,0.392) (-32.5,0.372) (-32,0.345) (-31.5,0.312) (-31,0.272) (-30.5,0.225) (-30,0.175)};
\addplot[pd] coordinates {(-47.95,0.98) (-47.8,0.78) (-47.6,0.64) (-47.4,0.56) (-47.2,0.515) (-47,0.493) (-46.5,0.482) (-46,0.487) (-45.5,0.50) (-45,0.52) (-44,0.575) (-43.5,0.605) (-43,0.610) (-42,0.665) (-41.5,0.700) (-41.2,0.715) (-40.8,0.705) (-40.4,0.676) (-40,0.635) (-39.5,0.579) (-39,0.535) (-38.5,0.497) (-38,0.468) (-37,0.435) (-36,0.420) (-35,0.412) (-34,0.405) (-33,0.387) (-32.5,0.368) (-32,0.342) (-31.5,0.310) (-31,0.268) (-30.5,0.218) (-30,0.165)};
\addplot[pd] coordinates {(-48,0.68) (-47.8,0.62) (-47.6,0.585) (-47.3,0.56) (-47,0.552) (-46.5,0.55) (-46,0.551) (-45.5,0.553) (-45,0.558) (-44.5,0.567) (-44,0.582) (-43.5,0.6) (-43,0.615) (-42,0.655) (-41.5,0.690) (-41.2,0.705) (-40.8,0.695) (-40.4,0.668) (-40,0.630) (-39.5,0.577) (-39,0.535) (-38.5,0.497) (-38,0.467) (-37,0.434) (-36,0.419) (-35,0.411) (-34,0.404) (-33,0.386) (-32.5,0.367) (-32,0.341) (-31.5,0.312) (-31,0.272) (-30.5,0.225) (-30,0.175)};
\addplot[pd] coordinates {(-48,0.54) (-47.7,0.50) (-47.4,0.485) (-47,0.48) (-46.5,0.482) (-46,0.49) (-45.5,0.50) (-45,0.515) (-44,0.57) (-43.5,0.60) (-43,0.633) (-42,0.710) (-41.5,0.745) (-41.2,0.760) (-40.8,0.750) (-40.4,0.712) (-40,0.658) (-39.5,0.588) (-39,0.535) (-38.5,0.497) (-38,0.472) (-37,0.443) (-36,0.428) (-35,0.420) (-34,0.413) (-33,0.395) (-32.5,0.374) (-32,0.347) (-31.5,0.314) (-31,0.275) (-30.5,0.231) (-30,0.183)};
\addplot[pdv] coordinates {(-48,0.200) (-47.5,0.265) (-47,0.330) (-46.5,0.385) (-46,0.430) (-45.5,0.470) (-45,0.510) (-44,0.570) (-43,0.625) (-42,0.695) (-41.5,0.730) (-41.2,0.745) (-40.8,0.735) (-40.4,0.700) (-40,0.650) (-39.5,0.585) (-39,0.535) (-38.5,0.497) (-38,0.470) (-37,0.440) (-36,0.425) (-35,0.417) (-34,0.410) (-33,0.392) (-32.5,0.372) (-32,0.345) (-31.5,0.312) (-31,0.272) (-30.5,0.225) (-30,0.175)};
\addplot[pdv] coordinates {(-48,0.220) (-47.5,0.279) (-47,0.338) (-46.5,0.392) (-46,0.438) (-45.5,0.478) (-45,0.520) (-44,0.580) (-43,0.638) (-42,0.720) (-41.5,0.755) (-41.2,0.770) (-40.8,0.760) (-40.4,0.720) (-40,0.662) (-39.5,0.590) (-39,0.535) (-38.5,0.497) (-38,0.473) (-37,0.446) (-36,0.431) (-35,0.423) (-34,0.416) (-33,0.398) (-32.5,0.377) (-32,0.349) (-31.5,0.314) (-31,0.277) (-30.5,0.233) (-30,0.187)};
\addplot[pdv] coordinates {(-48,0.180) (-47.5,0.251) (-47,0.322) (-46.5,0.378) (-46,0.422) (-45.5,0.462) (-45,0.500) (-44,0.560) (-43,0.610) (-42,0.665) (-41.5,0.700) (-41.2,0.715) (-40.8,0.705) (-40.4,0.676) (-40,0.635) (-39.5,0.579) (-39,0.535) (-38.5,0.497) (-38,0.468) (-37,0.435) (-36,0.420) (-35,0.412) (-34,0.405) (-33,0.387) (-32.5,0.368) (-32,0.342) (-31.5,0.310) (-31,0.268) (-30.5,0.218) (-30,0.165)};
\addplot[pdv] coordinates {(-48,0.210) (-47.5,0.272) (-47,0.334) (-46.5,0.387) (-46,0.431) (-45.5,0.472) (-45,0.515) (-44,0.575) (-43,0.633) (-42,0.710) (-41.5,0.745) (-41.2,0.760) (-40.8,0.750) (-40.4,0.712) (-40,0.658) (-39.5,0.588) (-39,0.535) (-38.5,0.497) (-38,0.472) (-37,0.443) (-36,0.428) (-35,0.420) (-34,0.413) (-33,0.395) (-32.5,0.374) (-32,0.347) (-31.5,0.314) (-31,0.275) (-30.5,0.231) (-30,0.183)};
\addplot[pdv] coordinates {(-48,0.190) (-47.5,0.258) (-47,0.326) (-46.5,0.383) (-46,0.427) (-45.5,0.466) (-45,0.505) (-44,0.565) (-43,0.618) (-42,0.680) (-41.5,0.715) (-41.2,0.730) (-40.8,0.720) (-40.4,0.688) (-40,0.642) (-39.5,0.582) (-39,0.535) (-38.5,0.497) (-38,0.468) (-37,0.436) (-36,0.421) (-35,0.413) (-34,0.406) (-33,0.388) (-32.5,0.369) (-32,0.343) (-31.5,0.311) (-31,0.270) (-30.5,0.221) (-30,0.169)};
\addplot[pdv] coordinates {(-48,0.200) (-47.5,0.265) (-47,0.330) (-46.5,0.388) (-46,0.437) (-45.5,0.480) (-45,0.525) (-44,0.585) (-43,0.640) (-42,0.725) (-41.5,0.760) (-41.2,0.775) (-40.8,0.765) (-40.4,0.724) (-40,0.665) (-39.5,0.591) (-39,0.535) (-38.5,0.497) (-38,0.474) (-37,0.448) (-36,0.433) (-35,0.425) (-34,0.418) (-33,0.400) (-32.5,0.378) (-32,0.350) (-31.5,0.315) (-31,0.278) (-30.5,0.236) (-30,0.190)};
\addplot[pdv] coordinates {(-48,0.230) (-47.5,0.286) (-47,0.342) (-46.5,0.388) (-46,0.425) (-45.5,0.458) (-45,0.495) (-44,0.555) (-43,0.605) (-42,0.655) (-41.5,0.690) (-41.2,0.705) (-40.8,0.695) (-40.4,0.668) (-40,0.630) (-39.5,0.577) (-39,0.535) (-38.5,0.497) (-38,0.467) (-37,0.434) (-36,0.419) (-35,0.411) (-34,0.404) (-33,0.386) (-32.5,0.367) (-32,0.341) (-31.5,0.312) (-31,0.272) (-30.5,0.225) (-30,0.175)};
\addplot[band] coordinates {(-48,0.51) (-47.8,0.498) (-47.5,0.505) (-47,0.515) (-46.5,0.54) (-46,0.565) (-45.5,0.585) (-45,0.60) (-44.5,0.62) (-44,0.64) (-43.5,0.655) (-43,0.672) (-42.5,0.70) (-42,0.738) (-41.5,0.785) (-41.2,0.801) (-41,0.798) (-40.7,0.777) (-40.4,0.735) (-40,0.675) (-39.5,0.612) (-39,0.565) (-38.5,0.53) (-38,0.5) (-37.5,0.477) (-37,0.458) (-36.5,0.445) (-36,0.438) (-35,0.434) (-34.5,0.43) (-34,0.424) (-33.5,0.414) (-33,0.399) (-32.5,0.38) (-32,0.353) (-31.5,0.32) (-31,0.283) (-30.5,0.24) (-30,0.193)};
\addplot[band] coordinates {(-48,0.168) (-47.5,0.23) (-47,0.29) (-46.5,0.345) (-46,0.395) (-45.5,0.44) (-45,0.48) (-44.5,0.515) (-44,0.55) (-43.5,0.58) (-43,0.607) (-42.5,0.632) (-42,0.657) (-41.5,0.68) (-41.1,0.69) (-40.8,0.685) (-40.5,0.667) (-40.2,0.632) (-39.8,0.58) (-39.3,0.527) (-38.8,0.488) (-38.2,0.457) (-37.5,0.436) (-37,0.424) (-36,0.412) (-35,0.406) (-34,0.401) (-33.5,0.395) (-33,0.383) (-32.5,0.364) (-32,0.338) (-31.5,0.304) (-31,0.263) (-30.5,0.215) (-30,0.158)};
\addlegendimage{lgdraw}\addlegendentry{posterior draws}
\addlegendimage{lgband}\addlegendentry{95\% credible bands}
\addlegendimage{lgobs}\addlegendentry{observations}
\addlegendimage{lgrng}\addlegendentry{observation range}
\end{axis}

% ---------------- bottom right ----------------
\begin{axis}[base, at={(501.75pt,-388.5pt)},
  xmin=-48.9, xmax=-29.1, ymin=-0.2, ymax=0.25,
  title={drift}, xlabel={v}, ylabel={$b_{\theta,\xi}(v)$},
  xtick={-47.5,-45,-42.5,-40,-37.5,-35,-32.5,-30},
  xticklabels={−47.5,−45.0,−42.5,−40.0,−37.5,−35.0,−32.5,−30.0},
  ytick={-0.2,-0.15,-0.1,-0.05,0,0.05,0.1,0.15,0.2,0.25},
  yticklabels={−0.20,−0.15,−0.10,−0.05,0.00,0.05,0.10,0.15,0.20,0.25},
  legend style={at={(0.988,0.988)}, anchor=north east}]
\addplot[rng] coordinates {(-45.83,-0.2) (-32.12,-0.2) (-32.12,0.25) (-45.83,0.25)} -- cycle;
\addplot[obs] table[x=x, y=c] {\obstable};
\addplot[pd] coordinates {(-48,-0.13) (-47.8,-0.09) (-47.5,-0.04) (-47,0.02) (-46.5,0.06) (-46,0.09) (-45,0.125) (-44,0.137) (-43,0.123) (-42,0.112) (-41.5,0.1) (-41,0.072) (-40.5,0.03) (-40,-0.01) (-39.5,-0.025) (-39,-0.03) (-38,-0.045) (-37,-0.065) (-36,-0.08) (-35,-0.085) (-34,-0.072) (-33,-0.055) (-32,-0.025) (-31,0.008) (-30.45,0.04)};
\addplot[pd] coordinates {(-47.65,-0.22) (-47.55,-0.13) (-47.4,-0.07) (-47.2,-0.02) (-47,0.01) (-46.5,0.055) (-46,0.09) (-45,0.115) (-44,0.113) (-43,0.10) (-42,0.087) (-41.5,0.07) (-41,0.035) (-40.5,0.0) (-40,-0.03) (-39.5,-0.048) (-39,-0.057) (-38,-0.072) (-37,-0.095) (-36,-0.107) (-35,-0.102) (-34,-0.085) (-33,-0.064) (-32,-0.035) (-31,0.0) (-30.45,0.022)};
\addplot[pd] coordinates {(-48,-0.04) (-47.5,0.0) (-47,0.04) (-46.5,0.07) (-46,0.095) (-45,0.12) (-44,0.118) (-43,0.105) (-42,0.095) (-41.5,0.085) (-41,0.06) (-40.5,0.02) (-40,-0.02) (-39.5,-0.04) (-39,-0.05) (-38,-0.068) (-37,-0.09) (-36,-0.1) (-35,-0.098) (-34,-0.08) (-33,-0.06) (-32,-0.032) (-31,0.003) (-30.45,0.027)};
\addplot[pd] coordinates {(-48,-0.01) (-47.5,0.045) (-47,0.07) (-46.5,0.09) (-46,0.11) (-45,0.14) (-44,0.155) (-43,0.14) (-42,0.122) (-41.5,0.1) (-41,0.06) (-40.5,0.018) (-40,-0.018) (-39.5,-0.032) (-39,-0.038) (-38,-0.048) (-37,-0.07) (-36,-0.09) (-35,-0.095) (-34,-0.082) (-33,-0.062) (-32,-0.03) (-31,0.006) (-30.45,0.047)};
\addplot[pd] coordinates {(-48,0.03) (-47.5,0.06) (-47,0.08) (-46.5,0.1) (-46,0.115) (-45,0.138) (-44,0.14) (-43,0.125) (-42,0.11) (-41.5,0.092) (-41,0.055) (-40.5,0.012) (-40,-0.022) (-39.5,-0.038) (-39,-0.045) (-38,-0.055) (-37,-0.075) (-36,-0.088) (-35,-0.087) (-34,-0.073) (-33,-0.055) (-32,-0.028) (-31,0.008) (-30.45,0.04)};
\addplot[pd] coordinates {(-48,0.012) (-47.5,0.022) (-47,0.055) (-46.5,0.085) (-46,0.108) (-45,0.138) (-44,0.14) (-43,0.125) (-42,0.11) (-41.5,0.092) (-41,0.055) (-40.5,0.012) (-40,-0.022) (-39.5,-0.038) (-39,-0.045) (-38,-0.055) (-37,-0.075) (-36,-0.088) (-35,-0.087) (-34,-0.073) (-33,-0.055) (-32,-0.028) (-31,0.008) (-30.45,0.04)};
\addplot[pd] coordinates {(-48,0.014) (-47.5,0.018) (-47,0.045) (-46.5,0.07) (-46,0.09) (-45,0.113) (-44,0.113) (-43,0.10) (-42,0.087) (-41.5,0.07) (-41,0.035) (-40.5,0.0) (-40,-0.03) (-39.5,-0.048) (-39,-0.057) (-38,-0.072) (-37,-0.095) (-36,-0.107) (-35,-0.102) (-34,-0.085) (-33,-0.064) (-32,-0.035) (-31,0.0) (-30.45,0.022)};
\addplot[pd] coordinates {(-48,0.010) (-47.5,0.025) (-47,0.06) (-46.5,0.093) (-46,0.12) (-45,0.15) (-44,0.15) (-43,0.132) (-42,0.12) (-41.5,0.105) (-41,0.07) (-40.5,0.025) (-40,-0.012) (-39.5,-0.03) (-39,-0.04) (-38,-0.05) (-37,-0.068) (-36,-0.082) (-35,-0.082) (-34,-0.07) (-33,-0.05) (-32,-0.022) (-31,0.012) (-30.45,0.052)};
\addplot[pd] coordinates {(-48,0.013) (-47.5,0.02) (-47,0.048) (-46.5,0.075) (-46,0.095) (-45,0.12) (-44,0.118) (-43,0.105) (-42,0.095) (-41.5,0.085) (-41,0.06) (-40.5,0.02) (-40,-0.02) (-39.5,-0.04) (-39,-0.05) (-38,-0.068) (-37,-0.09) (-36,-0.1) (-35,-0.098) (-34,-0.08) (-33,-0.06) (-32,-0.032) (-31,0.003) (-30.45,0.027)};
\addplot[pd] coordinates {(-48,0.015) (-47.5,0.016) (-47,0.042) (-46.5,0.068) (-46,0.088) (-45,0.108) (-44,0.108) (-43,0.095) (-42,0.08) (-41.5,0.06) (-41,0.025) (-40.5,-0.01) (-40,-0.04) (-39.5,-0.055) (-39,-0.062) (-38,-0.078) (-37,-0.1) (-36,-0.112) (-35,-0.108) (-34,-0.09) (-33,-0.07) (-32,-0.04) (-31,-0.005) (-30.45,0.017)};
\addplot[pd] coordinates {(-48,0.012) (-47.5,0.024) (-47,0.058) (-46.5,0.09) (-46,0.115) (-45,0.145) (-44,0.155) (-43,0.14) (-42,0.122) (-41.5,0.1) (-41,0.06) (-40.5,0.018) (-40,-0.018) (-39.5,-0.032) (-39,-0.038) (-38,-0.048) (-37,-0.07) (-36,-0.09) (-35,-0.095) (-34,-0.082) (-33,-0.062) (-32,-0.03) (-31,0.006) (-30.45,0.047)};
\addplot[pd] coordinates {(-48,0.011) (-47.5,0.021) (-47,0.052) (-46.5,0.08) (-46,0.102) (-45,0.13) (-44,0.13) (-43,0.115) (-42,0.1) (-41.5,0.083) (-41,0.048) (-40.5,0.01) (-40,-0.028) (-39.5,-0.045) (-39,-0.052) (-38,-0.065) (-37,-0.085) (-36,-0.095) (-35,-0.09) (-34,-0.078) (-33,-0.058) (-32,-0.03) (-31,0.005) (-30.45,0.035)};
\addplot[pd] coordinates {(-48,0.013) (-47.5,0.019) (-47,0.048) (-46.5,0.078) (-46,0.1) (-45,0.127) (-44,0.133) (-43,0.12) (-42,0.104) (-41.5,0.088) (-41,0.052) (-40.5,0.006) (-40,-0.035) (-39.5,-0.05) (-39,-0.055) (-38,-0.06) (-37,-0.078) (-36,-0.11) (-35,-0.118) (-34,-0.1) (-33,-0.075) (-32,-0.045) (-31,-0.01) (-30.45,0.013)};
\addplot[pd] coordinates {(-48,0.012) (-47.5,0.023) (-47,0.054) (-46.5,0.082) (-46,0.105) (-45,0.133) (-44,0.137) (-43,0.123) (-42,0.112) (-41.5,0.1) (-41,0.072) (-40.5,0.03) (-40,-0.01) (-39.5,-0.025) (-39,-0.03) (-38,-0.045) (-37,-0.065) (-36,-0.08) (-35,-0.085) (-34,-0.072) (-33,-0.055) (-32,-0.025) (-31,0.008) (-30.45,0.04)};
\addplot[pd] coordinates {(-48,0.014) (-47.5,0.017) (-47,0.044) (-46.5,0.072) (-46,0.093) (-45,0.118) (-44,0.122) (-43,0.11) (-42,0.098) (-41.5,0.08) (-41,0.04) (-40.5,0.0) (-40,-0.033) (-39.5,-0.05) (-39,-0.06) (-38,-0.075) (-37,-0.095) (-36,-0.105) (-35,-0.1) (-34,-0.083) (-33,-0.062) (-32,-0.034) (-31,0.0) (-30.45,0.025)};
\addplot[pd] coordinates {(-48,0.012) (-47.5,0.02) (-47,0.05) (-46.5,0.08) (-46,0.105) (-45,0.14) (-44,0.145) (-43,0.13) (-42,0.125) (-41.5,0.108) (-41,0.075) (-40.5,0.028) (-40,-0.005) (-39.5,-0.02) (-39,-0.024) (-38,-0.03) (-37,-0.05) (-36,-0.07) (-35,-0.075) (-34,-0.065) (-33,-0.05) (-32,-0.02) (-31,0.012) (-30.45,0.045)};
\addplot[pd] coordinates {(-48,0.013) (-47.5,0.018) (-47,0.046) (-46.5,0.072) (-46,0.092) (-45,0.11) (-44,0.105) (-43,0.085) (-42,0.065) (-41.5,0.05) (-41,0.025) (-40.5,-0.005) (-40,-0.03) (-39.5,-0.045) (-39,-0.05) (-38,-0.07) (-37,-0.092) (-36,-0.098) (-35,-0.09) (-34,-0.075) (-33,-0.06) (-32,-0.035) (-31,-0.002) (-30.45,0.02)};
\addplot[pd] coordinates {(-48,0.011) (-47.5,0.024) (-47,0.056) (-46.5,0.088) (-46,0.112) (-45,0.142) (-44,0.148) (-43,0.13) (-42,0.11) (-41.5,0.095) (-41,0.058) (-40.5,0.015) (-40,-0.025) (-39.5,-0.04) (-39,-0.044) (-38,-0.052) (-37,-0.072) (-36,-0.092) (-35,-0.1) (-34,-0.09) (-33,-0.07) (-32,-0.04) (-31,-0.004) (-30.45,0.03)};
\addplot[pd] coordinates {(-48,0.014) (-47.5,0.019) (-47,0.047) (-46.5,0.074) (-46,0.097) (-45,0.122) (-44,0.125) (-43,0.112) (-42,0.101) (-41.5,0.09) (-41,0.066) (-40.5,0.028) (-40,-0.012) (-39.5,-0.03) (-39,-0.036) (-38,-0.058) (-37,-0.082) (-36,-0.1) (-35,-0.105) (-34,-0.088) (-33,-0.066) (-32,-0.036) (-31,0.002) (-30.45,0.03)};
\addplot[pdsharp] coordinates {(-30.45,0.04) (-30.38,-0.008) (-30.02,-0.010)};
\addplot[pdsharp] coordinates {(-30.45,0.022) (-30.38,-0.009) (-30.02,-0.010)};
\addplot[pdsharp] coordinates {(-30.45,0.027) (-30.38,-0.008) (-30.02,-0.010)};
\addplot[pdsharp] coordinates {(-30.45,0.047) (-30.38,-0.007) (-30.02,-0.009)};
\addplot[pdsharp] coordinates {(-30.45,0.04) (-30.38,-0.008) (-30.02,-0.010)};
\addplot[pdsharp] coordinates {(-30.45,0.04) (-30.38,-0.008) (-30.02,-0.010)};
\addplot[pdsharp] coordinates {(-30.45,0.022) (-30.38,-0.009) (-30.02,-0.010)};
\addplot[pdsharp] coordinates {(-30.45,0.052) (-30.38,-0.007) (-30.02,-0.009)};
\addplot[pdsharp] coordinates {(-30.45,0.027) (-30.38,-0.008) (-30.02,-0.010)};
\addplot[pdsharp] coordinates {(-30.45,0.017) (-30.38,-0.010) (-30.02,-0.011)};
\addplot[pdsharp] coordinates {(-30.45,0.047) (-30.38,-0.007) (-30.02,-0.009)};
\addplot[pdsharp] coordinates {(-30.45,0.035) (-30.38,-0.008) (-30.02,-0.010)};
\addplot[pdsharp] coordinates {(-30.45,0.013) (-30.38,-0.010) (-30.02,-0.011)};
\addplot[pdsharp] coordinates {(-30.45,0.04) (-30.38,-0.008) (-30.02,-0.010)};
\addplot[pdsharp] coordinates {(-30.45,0.025) (-30.38,-0.009) (-30.02,-0.010)};
\addplot[pdsharp] coordinates {(-30.45,0.045) (-30.38,-0.008) (-30.02,-0.010)};
\addplot[pdsharp] coordinates {(-30.45,0.02) (-30.38,-0.009) (-30.02,-0.011)};
\addplot[pdsharp] coordinates {(-30.45,0.03) (-30.38,-0.008) (-30.02,-0.010)};
\addplot[pdsharp] coordinates {(-30.45,0.03) (-30.38,-0.009) (-30.02,-0.010)};
\addplot[band] coordinates {(-48,0.035) (-47.5,0.059) (-47,0.085) (-46.5,0.105) (-46,0.123) (-45.5,0.148) (-45.2,0.168) (-44.9,0.179) (-44.5,0.177) (-44,0.17) (-43.5,0.158) (-43,0.146) (-42.5,0.134) (-42,0.13) (-41.7,0.124) (-41.3,0.1) (-41,0.077) (-40.6,0.037) (-40.2,0.008) (-39.8,-0.01) (-39.2,-0.017) (-38.7,-0.021) (-38.2,-0.028) (-37.6,-0.043) (-37,-0.053) (-36.5,-0.056) (-36,-0.057) (-35.5,-0.054) (-35,-0.046) (-34.5,-0.036) (-34,-0.027) (-33.5,-0.017) (-33,-0.008) (-32.5,0.002) (-32,0.012) (-31.5,0.025) (-31,0.042) (-30.7,0.057) (-30.42,0.069)};
\addplot[bandsharp] coordinates {(-30.42,0.069) (-30.3,0.02) (-30.1,-0.015) (-30.02,-0.017)};
\addplot[band] coordinates {(-48,-0.031) (-47.5,-0.02) (-47.2,0.008) (-46.6,0.041) (-46,0.07) (-45.5,0.088) (-45,0.099) (-44.6,0.1) (-44,0.092) (-43.5,0.077) (-43,0.065) (-42.6,0.056) (-42.2,0.052) (-41.8,0.04) (-41.5,0.018) (-41.2,-0.015) (-40.9,-0.05) (-40.5,-0.075) (-40.2,-0.082) (-39.5,-0.083) (-39,-0.075) (-38.6,-0.074) (-38.2,-0.085) (-37.6,-0.103) (-37,-0.116) (-36.5,-0.122) (-36,-0.124) (-35.5,-0.123) (-35,-0.117) (-34.5,-0.109) (-34,-0.1) (-33.5,-0.092) (-33,-0.081) (-32.5,-0.068) (-32,-0.045) (-31.6,-0.028) (-31.2,-0.019) (-30.8,-0.016) (-30.5,-0.016) (-30.3,-0.015) (-30.05,-0.009)};
\addlegendimage{lgdraw}\addlegendentry{posterior draws}
\addlegendimage{lgband}\addlegendentry{95\% credible bands}
\addlegendimage{lgobs}\addlegendentry{observations}
\addlegendimage{lgrng}\addlegendentry{observation range}
\end{axis}
\end{tikzpicture}
\end{document}
